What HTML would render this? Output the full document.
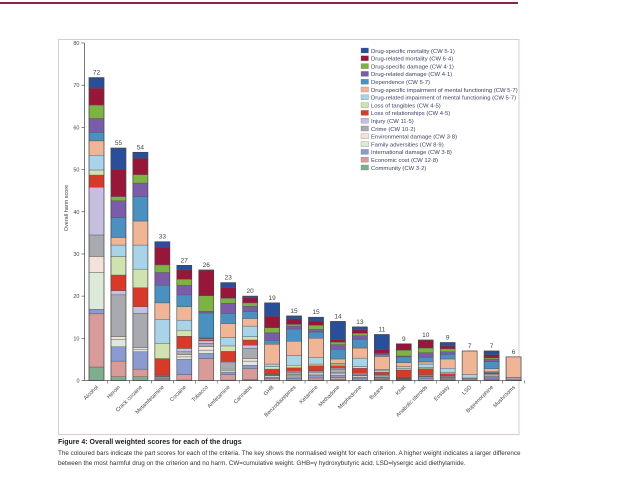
<!DOCTYPE html>
<html><head><meta charset="utf-8"><style>
body{margin:0;background:#fff;width:638px;height:479px;overflow:hidden;font-family:"Liberation Sans",sans-serif;}
svg{position:absolute;left:0;top:0}
</style></head><body>
<svg id="c" width="638" height="479" xmlns="http://www.w3.org/2000/svg">
<rect x="0" y="2" width="518" height="2" fill="#8c2343"/>
<rect x="58.5" y="39.5" width="460.5" height="395" fill="none" stroke="#e2c8d2" stroke-width="1"/>
<g id="plot"></g>
<g id="legend"></g>
<text x="58" y="444" font-size="7" font-weight="bold" fill="#222">Figure 4: Overall weighted scores for each of the drugs</text>
<text x="58" y="455" font-size="6.3" fill="#333">The coloured bars indicate the part scores for each of the criteria. The key shows the normalised weight for each criterion. A higher weight indicates a larger difference</text>
<text x="58" y="465" font-size="6.3" fill="#333">between the most harmful drug on the criterion and no harm. CW=cumulative weight. GHB=γ hydroxybutyric acid. LSD=lysergic acid diethylamide.</text>
</svg>
<script>
const drugs=["Alcohol","Heroin","Crack cocaine","Metamfetamine","Cocaine","Tobacco","Amfetamine","Cannabis","GHB","Benzodiazepines","Ketamine","Methadone","Mephedrone","Butane","Khat","Anabolic steroids","Ecstasy","LSD","Buprenorphine","Mushrooms"];
const totals=[72,55,54,33,27,26,23,20,19,15,15,14,13,11,9,10,9,7,7,6];
const criteria=["Community (CW 3·2)","Economic cost (CW 12·8)","International damage (CW 3·8)","Family adversities (CW 8·9)","Environmental damage (CW 3·8)","Crime (CW 10·2)","Injury (CW 11·5)","Loss of relationships (CW 4·5)","Loss of tangibles (CW 4·5)","Drug-related impairment of mental functioning (CW 5·7)","Drug-specific impairment of mental functioning (CW 5·7)","Dependence (CW 5·7)","Drug-related damage (CW 4·1)","Drug-specific damage (CW 4·1)","Drug-related mortality (CW 6·4)","Drug-specific mortality (CW 5·1)"];
const colors=["#7fad8e","#d99b99","#8b9bd2","#dde9d9","#f3e1dc","#a9aab0","#c6bfe0","#d83a2a","#cfe2b0","#a8d3e8","#f0b597","#4a90c0","#7a5ca8","#7cb342","#98163a","#2a4f9a"];
const sAlcohol=[3.2,12.6,1.1,8.7,3.8,5.1,11.3,2.9,1.2,3.5,3.4,2.0,3.3,3.2,4.0,2.5];
const sHeroin=[0.9,3.7,3.4,1.7,0.7,9.9,1.0,3.7,4.4,2.7,1.8,4.7,4.0,1.0,6.5,5.0];
const sCrack=[0.9,1.8,4.1,0.6,0.4,8.1,1.6,4.5,4.4,5.7,5.7,5.8,3.2,2.0,3.9,1.4];
const sMeth=[0.2,0.3,0.2,0.2,0.1,0.2,0.1,3.9,3.6,5.7,3.9,4.2,3.0,1.8,4.2,1.3];
const sCocaine=[0.1,1.3,3.6,0.6,0.5,0.7,0.8,2.9,1.4,2.4,3.2,2.8,2.3,1.4,2.2,1.1];
const sTobacco=[0,5.2,1.2,0.8,0.8,0.8,0.6,0.3,0.2,0.1,0.1,5.9,0.4,3.7,6.0,0.1];
const sAmph=[0.1,1.3,0.6,0.4,0.3,1.5,0.3,2.4,1.3,2.0,3.3,2.4,2.4,1.2,2.5,1.2];
const sCannabis=[0.2,2.6,0.8,1.0,0.6,2.4,0.8,1.2,0.8,2.5,1.8,1.6,1.3,0.8,1.2,0.4];
const sGHB=[0.1,0.4,0.3,0.3,0.1,0.2,0.1,1.2,0.6,0.6,4.7,0.9,1.8,1.2,2.7,3.2];
const sBenzo=[0.1,0.3,0.5,0.3,0.2,0.5,0.3,0.8,0.6,2.3,3.4,2.9,0.7,0.4,1.3,0.7];
const sKetamine=[0.1,0.5,0.6,0.3,0.3,0.3,0.2,1.2,0.4,1.5,4.6,1.5,0.6,1.0,1.0,0.9];
const sMethadone=[0.2,0.5,0.6,0.4,0.2,0.7,0.3,0.6,0.4,0.2,1.0,2.3,1.1,0.6,0.6,4.3];
const sMephedrone=[0.1,0.3,0.4,0.3,0.1,0.3,0.2,1.2,0.4,2.0,2.4,2.1,0.8,0.6,0.8,0.7];
const sButane=[0.1,0.2,0.2,0.2,0.1,0.4,0.2,0.6,0.3,0.3,3.1,0.4,0.3,0.1,0.8,3.6];
const sKhat=[0.1,0.1,0.1,0.1,0.1,0.1,0.1,1.8,0.3,0.5,0.9,1.4,0.2,1.4,1.5,0];
const sSteroids=[0.1,0.3,0.3,0.2,0.1,0.2,0.2,1.4,0.3,0.8,0.5,1.1,1.1,1.1,1.8,0.1];
const sEcstasy=[0.1,0.2,0.2,0.2,0.1,0.2,0.1,0.5,0.3,1.0,2.2,1.1,0.6,0.7,0.7,0.8];
const sLSD=[0,0.3,0,0,0.1,0,0.2,0,0,0.8,5.6,0,0,0,0,0];
const sBupren=[0.1,0.2,0.3,0.2,0.1,0.5,0.2,0.2,0.1,0.2,0.7,1.7,0.6,0.3,0.7,0.9];
const sMushrooms=[0,0.1,0.1,0,0,0,0.4,0,0,0.1,4.9,0,0,0,0,0];
const series=[sAlcohol,sHeroin,sCrack,sMeth,sCocaine,sTobacco,sAmph,sCannabis,sGHB,sBenzo,sKetamine,sMethadone,sMephedrone,sButane,sKhat,sSteroids,sEcstasy,sLSD,sBupren,sMushrooms];
const yTicks=[0,10,20,30,40,50,60,70,80];

const NS="http://www.w3.org/2000/svg";
const X0=84.5,Y0=380.5,PXU=(380.5-43)/80,STEP=21.95,BW=15,B0=89;
const y=v=>Y0-v*PXU;
const xb=i=>B0+i*STEP;
function mk(t,a,p){const e=document.createElementNS(NS,t);for(const k in a)e.setAttribute(k,a[k]);p.appendChild(e);return e;}
const plot=document.getElementById('plot');
let ax=mk('line',{x1:X0,y1:y(80),x2:X0,y2:Y0,stroke:'#555','stroke-width':0.8},plot);


let axx=mk('line',{x1:X0,y1:Y0,x2:522,y2:Y0,stroke:'#555','stroke-width':0.8},plot);


yTicks.forEach(v=>{
  const t=mk('line',{x1:X0-3,y1:y(v),x2:X0,y2:y(v),stroke:'#555','stroke-width':0.7},plot);
  
  
  const l=mk('text',{x:X0-5,y:y(v)+2,'font-size':5.5,'text-anchor':'end',fill:'#444'},plot);
  l.textContent=v;
  
  
});
const yt=mk('text',{x:0,y:0,'font-size':5.5,'text-anchor':'middle',fill:'#444',transform:'translate(68,208) rotate(-90)'},plot);
yt.textContent='Overall harm score';


series.forEach((s,i)=>{
  const g=mk('g',{},plot);
  
  
  let cum=0;
  s.forEach((v,k)=>{
    if(v<=0)return;
    const r=mk('rect',{x:xb(i),y:y(cum+v),width:BW,height:v*PXU,fill:colors[k],stroke:'#555','stroke-width':0.4},g);
    
    
    cum+=v;
  });
  const o=mk('rect',{x:xb(i),y:y(cum),width:BW,height:cum*PXU,fill:'none',stroke:'#444','stroke-width':0.6},g);
  
  
  const vl=mk('text',{x:xb(i)+BW/2,y:y(cum)-3,'font-size':6.5,'text-anchor':'middle',fill:'#444'},plot);
  vl.textContent=totals[i];
  
  
  const tk=mk('line',{x1:xb(i)+BW+3.5,y1:Y0,x2:xb(i)+BW+3.5,y2:Y0+3,stroke:'#555','stroke-width':0.6},plot);
  
  
  const cx=xb(i)+BW/2+2,cy=Y0+7;
  const xl=mk('text',{x:cx,y:cy,'font-size':5.5,'text-anchor':'end',fill:'#444',transform:`rotate(-45 ${cx} ${cy})`},plot);
  xl.textContent=drugs[i];
  
  
});
const leg=document.getElementById('legend');
for(let k=15,j=0;k>=0;k--,j++){
  const ly=48+j*7.8;
  const sw=mk('rect',{x:361,y:ly,width:7.5,height:5,fill:colors[k],stroke:'#777','stroke-width':0.3},leg);
  
  
  const lt=mk('text',{x:371,y:ly+4.8,'font-size':5.9,fill:'#3a4060'},leg);
  lt.textContent=criteria[k];
  
  
}
</script>
</body></html>
